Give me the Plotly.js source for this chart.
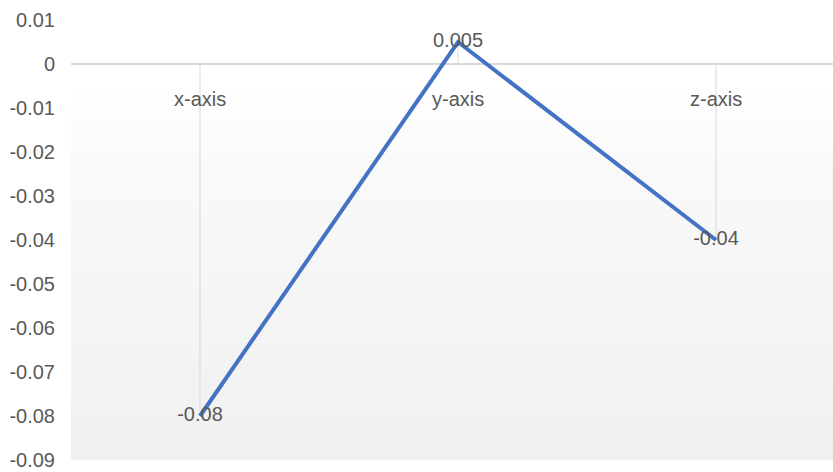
<!DOCTYPE html>
<html>
<head>
<meta charset="utf-8">
<script src="https://cdn.plot.ly/plotly-3.0.1.min.js"></script>
<style>
  html, body { margin: 0; padding: 0; background: #ffffff; }
  #wrap { position: relative; width: 833px; height: 472px; }
  #bg { position: absolute; background: linear-gradient(to bottom, #ffffff 0%, #ffffff 15%, #f9f9f9 35%, #f0f0f0 100%); }
  #chart { position: absolute; left: 0; top: 0; width: 833px; height: 472px; }
</style>
</head>
<body>
<div id="wrap">
  <div id="bg"></div>
  <div id="chart"></div>
</div>
<script>
// Category names and the value for each axis
const categories = ["x-axis", "y-axis", "z-axis"];
const values = [-0.08, 0.005, -0.04];
const valueLabels = ["-0.08", "0.005", "-0.04"];

// Value axis ticks
const yTickVals = [0.01, 0, -0.01, -0.02, -0.03, -0.04, -0.05, -0.06, -0.07, -0.08, -0.09];
const yTickText = ["0.01", "0", "-0.01", "-0.02", "-0.03", "-0.04", "-0.05", "-0.06", "-0.07", "-0.08", "-0.09"];

const W = 833, H = 472;
const margin = { l: 71, r: 0, t: 20, b: 12 };
const catStep = 258; // pixel width of one category slot
const xMax = (W - margin.l - margin.r) / catStep - 0.5;

const FONT = "'Liberation Sans Narrow', 'Arial Narrow', 'Liberation Sans', sans-serif";
const TEXT_COLOR = "#595959";
const FONT_SIZE = 20;

// Drop lines from each point back to the zero line
const dropX = [], dropY = [];
categories.forEach((c, i) => { dropX.push(c, c, null); dropY.push(0, values[i], null); });

const traces = [
  {
    x: dropX, y: dropY, type: "scatter", mode: "lines",
    line: { color: "#d9d9d9", width: 1 },
    hoverinfo: "skip", showlegend: false
  },
  {
    x: categories, y: values, type: "scatter", mode: "lines+text",
    text: valueLabels, textposition: "middle center",
    textfont: { family: FONT, size: FONT_SIZE, color: TEXT_COLOR },
    line: { color: "#4472c4", width: 4 },
    showlegend: false
  }
];

// Category names sit just under the zero line
const annotations = categories.map(c => ({
  x: c, y: 0, xref: "x", yref: "y", text: c, showarrow: false,
  yanchor: "middle", yshift: -35,
  font: { family: FONT, size: FONT_SIZE, color: TEXT_COLOR }
}));

const layout = {
  width: W, height: H,
  margin: margin,
  paper_bgcolor: "rgba(0,0,0,0)",
  plot_bgcolor: "rgba(0,0,0,0)",
  font: { family: FONT, size: FONT_SIZE, color: TEXT_COLOR },
  xaxis: {
    type: "category", range: [-0.5, xMax],
    showticklabels: false, showgrid: false, zeroline: false, showline: false, ticks: ""
  },
  yaxis: {
    range: [-0.09, 0.01],
    tickvals: yTickVals, ticktext: yTickText,
    showgrid: false, showline: false, ticks: "",
    zeroline: true, zerolinecolor: "#d9d9d9", zerolinewidth: 2,
    ticklabelstandoff: 15,
    tickfont: { family: FONT, size: FONT_SIZE, color: TEXT_COLOR }
  },
  annotations: annotations,
  showlegend: false
};

// Gradient backdrop under the plotting area
const bg = document.getElementById("bg");
bg.style.left = margin.l + "px";
bg.style.top = margin.t + "px";
bg.style.width = (W - margin.l - margin.r) + "px";
bg.style.height = (H - margin.t - margin.b) + "px";

Plotly.newPlot("chart", traces, layout, { displayModeBar: false, staticPlot: true });
</script>
</body>
</html>
